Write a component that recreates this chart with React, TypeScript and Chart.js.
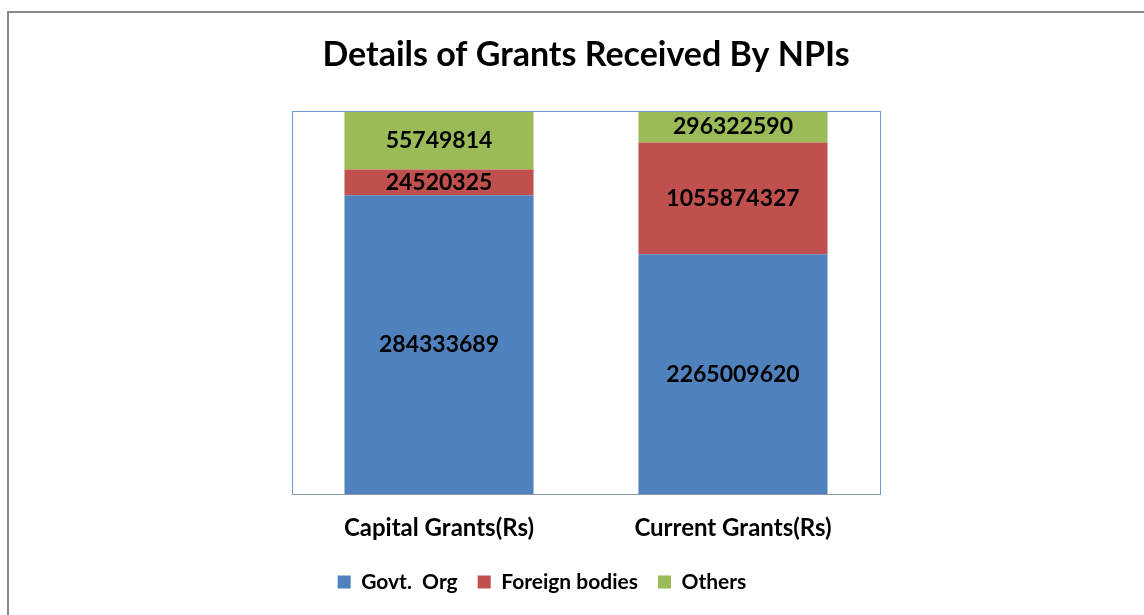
import React, { useEffect, useRef } from "react";
import { Chart, registerables } from "chart.js";

Chart.register(...registerables);

const categories = ["Capital Grants(Rs)", "Current Grants(Rs)"];
const seriesNames = ["Govt.  Org", "Foreign bodies", "Others"];
const govtOrg = [284333689, 2265009620];
const foreignBodies = [24520325, 1055874327];
const others = [55749814, 296322590];
const seriesColors = ["#4F81BD", "#C0504D", "#9BBB59"];

const FONT = "Lato, 'Open Sans', sans-serif";

export default function App() {
  const ref = useRef<HTMLCanvasElement | null>(null);

  useEffect(() => {
    if (!ref.current) return;
    const raw = [govtOrg, foreignBodies, others];
    const totals = categories.map((_, i) => raw.reduce((s, arr) => s + arr[i], 0));

    const framePlugin = {
      id: "frame",
      afterLayout(chart: any) {
        if (chart.legend) {
          chart.legend.left -= 44;
          chart.legend.right -= 44;
        }
      },
      beforeDraw(chart: any) {
        const { ctx } = chart;
        ctx.save();
        ctx.fillStyle = "#ffffff";
        ctx.fillRect(0, 0, chart.width, chart.height);
        ctx.strokeStyle = "#8a8a8a";
        ctx.lineWidth = 2;
        ctx.strokeRect(8, 12, chart.width + 20, chart.height + 20);
        ctx.restore();
      },
      afterDatasetsDraw(chart: any) {
        const { ctx, chartArea: a } = chart;
        ctx.save();
        ctx.strokeStyle = "#6f9ad0";
        ctx.lineWidth = 1;
        ctx.strokeRect(a.left + 0.5, a.top + 0.5, a.right - a.left, a.bottom - a.top);
        ctx.strokeStyle = "#8c99a8";
        ctx.beginPath();
        ctx.moveTo(a.left, a.bottom + 0.5);
        ctx.lineTo(a.right, a.bottom + 0.5);
        ctx.stroke();
        ctx.fillStyle = "#000";
        ctx.font = `bold 23px ${FONT}`;
        ctx.textAlign = "center";
        ctx.textBaseline = "middle";
        chart.data.datasets.forEach((_ds: any, di: number) => {
          const meta = chart.getDatasetMeta(di);
          meta.data.forEach((bar: any, i: number) => {
            const y = (bar.y + bar.base) / 2;
            ctx.fillText(String(raw[di][i]), bar.x, y);
          });
        });
        ctx.restore();
      },
    };

    const chart = new Chart(ref.current, {
      type: "bar",
      data: {
        labels: categories,
        datasets: raw.map((arr, di) => ({
          label: seriesNames[di],
          data: arr.map((v, i) => (v / totals[i]) * 100),
          backgroundColor: seriesColors[di],
          borderWidth: 0,
          barPercentage: 0.643,
          categoryPercentage: 1,
        })),
      },
      options: {
        animation: false,
        responsive: false,
        layout: { padding: { left: 292, right: 264, top: 0, bottom: 12.5 } },
        plugins: {
          tooltip: { enabled: false },
          title: {
            display: true,
            text: "Details of Grants Received By NPIs",
            color: "#000",
            font: { family: FONT, size: 34, weight: "bold", lineHeight: 1.2 },
            padding: { top: 34.6, bottom: 35.6 },
          },
          legend: {
            position: "bottom",
            labels: {
              color: "#000",
              font: { family: FONT, size: 21, weight: "bold" },
              boxWidth: 13,
              boxHeight: 13,
              padding: 20,
            },
          },
        },
        scales: {
          x: {
            stacked: true,
            grid: { display: false, drawTicks: false, tickLength: 0 },
            border: { display: false },
            ticks: { color: "#000", font: { family: FONT, size: 24, weight: "bold", lineHeight: 1.2 }, padding: 20 },
            afterFit(scale: any) {
              scale.height = 57.5;
            },
          },
          y: {
            stacked: true,
            display: false,
            min: 0,
            max: 100,
          },
        },
      },
      plugins: [framePlugin],
    });
    return () => chart.destroy();
  }, []);

  return (
    <div style={{ position: "fixed", left: 0, top: 0, width: 1144, height: 615 }}>
      <canvas ref={ref} width={1144} height={615} style={{ width: 1144, height: 615, display: "block" }} />
    </div>
  );
}
